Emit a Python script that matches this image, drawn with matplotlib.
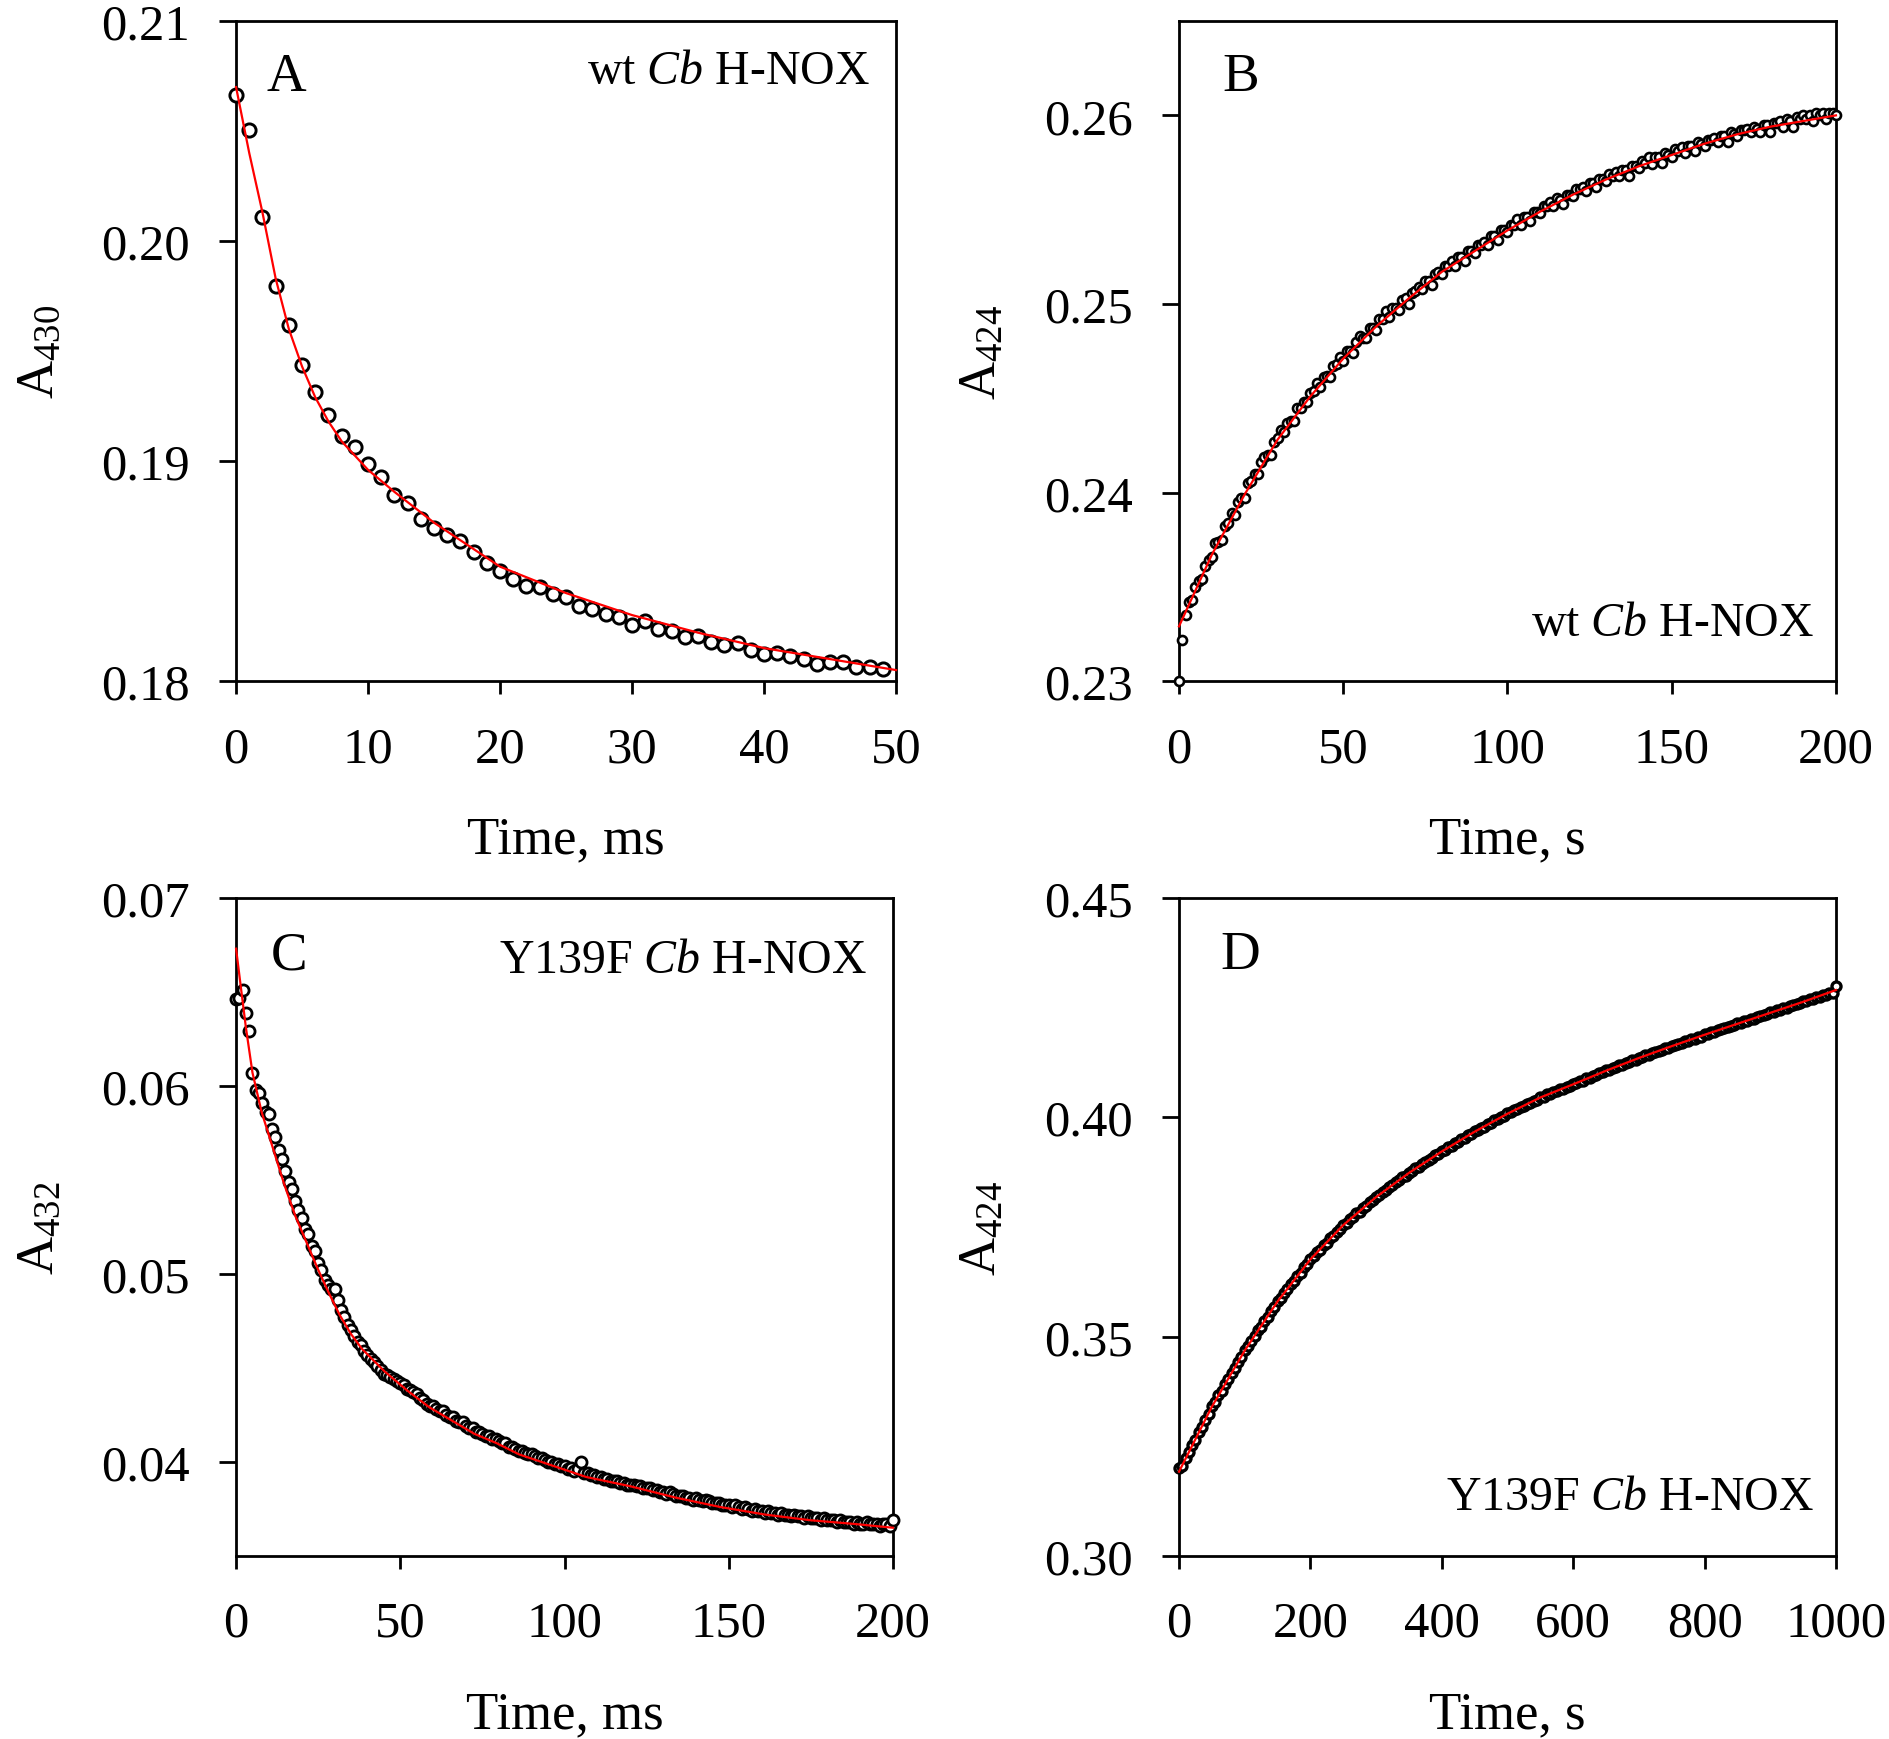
"Four-panel stopped-flow kinetics: wt and Y139F Cb H-NOX"

import numpy as np
import matplotlib
matplotlib.use("Agg")
import matplotlib.pyplot as plt
import matplotlib.ticker as mticker

plt.rcParams["font.family"] = ["Liberation Serif", "DejaVu Serif"]
plt.rcParams["mathtext.fontset"] = "custom"
plt.rcParams["mathtext.rm"] = "Liberation Serif"
plt.rcParams["mathtext.it"] = "Liberation Serif:italic"

# ---------------- Data ----------------
# Panel A: wt Cb H-NOX, A430 vs time (ms), 1 ms sampling
a_time = np.arange(0, 50, 1)
a_abs = [0.20664, 0.20506, 0.20111, 0.19798, 0.19620, 0.19439, 0.19315, 0.19208,
         0.19116, 0.19065, 0.18989, 0.18926, 0.18847, 0.18809, 0.18735, 0.18695,
         0.18666, 0.18637, 0.18588, 0.18536, 0.18502, 0.18462, 0.18433, 0.18426,
         0.18395, 0.18384, 0.18342, 0.18326, 0.18307, 0.18290, 0.18254, 0.18273,
         0.18237, 0.18227, 0.18200, 0.18206, 0.18179, 0.18164, 0.18174, 0.18143,
         0.18122, 0.18126, 0.18116, 0.18101, 0.18078, 0.18086, 0.18086, 0.18065,
         0.18065, 0.18055]
a_fit_time = [0, 1, 2, 3, 4, 5, 6, 7, 8, 10, 12, 15, 20, 25, 30, 35, 40, 45, 50]
a_fit = [0.2070, 0.2040, 0.2013, 0.1983, 0.1960, 0.1943, 0.1929, 0.1918,
         0.1909, 0.1896, 0.1886, 0.1872, 0.1852, 0.1840, 0.1830, 0.1822,
         0.1815, 0.1810, 0.1805]

# Panel B: wt Cb H-NOX, A424 vs time (s), 1 s sampling
b_time = np.arange(0, 201, 1)
b_abs = [0.2300, 0.2322, 0.2335, 0.2342, 0.2343, 0.2350, 0.2353, 0.2354, 0.2361, 0.2364,
         0.2366, 0.2373, 0.2374, 0.2375, 0.2382, 0.2384, 0.2389, 0.2388, 0.2395, 0.2397,
         0.2397, 0.2405, 0.2406, 0.2410, 0.2410, 0.2416, 0.2419, 0.2420, 0.2420, 0.2427,
         0.2429, 0.2433, 0.2432, 0.2437, 0.2438, 0.2438, 0.2445, 0.2445, 0.2448, 0.2448,
         0.2453, 0.2454, 0.2458, 0.2456, 0.2461, 0.2462, 0.2461, 0.2467, 0.2468, 0.2472,
         0.2470, 0.2475, 0.2475, 0.2474, 0.2480, 0.2483, 0.2482, 0.2482, 0.2487, 0.2487,
         0.2486, 0.2492, 0.2492, 0.2496, 0.2493, 0.2498, 0.2498, 0.2497, 0.2502, 0.2503,
         0.2500, 0.2506, 0.2507, 0.2509, 0.2508, 0.2512, 0.2512, 0.2510, 0.2516, 0.2517,
         0.2516, 0.2520, 0.2520, 0.2523, 0.2520, 0.2525, 0.2525, 0.2523, 0.2528, 0.2528,
         0.2527, 0.2531, 0.2531, 0.2533, 0.2531, 0.2536, 0.2536, 0.2534, 0.2539, 0.2539,
         0.2538, 0.2542, 0.2542, 0.2545, 0.2542, 0.2546, 0.2546, 0.2544, 0.2549, 0.2549,
         0.2548, 0.2552, 0.2552, 0.2554, 0.2552, 0.2556, 0.2555, 0.2553, 0.2558, 0.2558,
         0.2557, 0.2561, 0.2561, 0.2562, 0.2560, 0.2564, 0.2564, 0.2562, 0.2566, 0.2566,
         0.2565, 0.2569, 0.2568, 0.2570, 0.2568, 0.2571, 0.2571, 0.2568, 0.2573, 0.2573,
         0.2572, 0.2576, 0.2575, 0.2578, 0.2574, 0.2578, 0.2578, 0.2575, 0.2580, 0.2579,
         0.2578, 0.2582, 0.2581, 0.2583, 0.2580, 0.2584, 0.2584, 0.2581, 0.2586, 0.2585,
         0.2584, 0.2587, 0.2587, 0.2588, 0.2586, 0.2589, 0.2589, 0.2586, 0.2591, 0.2590,
         0.2589, 0.2592, 0.2592, 0.2593, 0.2591, 0.2594, 0.2593, 0.2591, 0.2595, 0.2595,
         0.2591, 0.2596, 0.2596, 0.2597, 0.2594, 0.2598, 0.2597, 0.2594, 0.2599, 0.2598,
         0.2600, 0.2598, 0.2600, 0.2597, 0.2601, 0.2600, 0.2601, 0.2598, 0.2601, 0.2601,
         0.2600]
b_fit_time = [0, 10, 20, 30, 40, 50, 60, 70, 80, 90, 100, 110, 120, 130, 140, 150,
              160, 170, 180, 190, 200]
b_fit = [0.2329, 0.2367, 0.2399, 0.2428, 0.2451, 0.2471, 0.2488, 0.2503, 0.2517,
         0.2528, 0.2539, 0.2549, 0.2558, 0.2566, 0.2573, 0.2579, 0.2585, 0.2590,
         0.2594, 0.2597, 0.2600]

# Panel C: Y139F Cb H-NOX, A432 vs time (ms), 1 ms sampling
c_time = np.arange(0, 201, 1)
c_abs = [0.0646, 0.0647, 0.0651, 0.0639, 0.0629, 0.0607, 0.0598, 0.0596, 0.0591, 0.0586,
         0.0585, 0.0577, 0.0573, 0.0566, 0.0561, 0.0555, 0.0549, 0.0545, 0.0539, 0.0534,
         0.0530, 0.0524, 0.0521, 0.0515, 0.0512, 0.0506, 0.0502, 0.0497, 0.0494, 0.0492,
         0.0492, 0.0486, 0.0481, 0.0477, 0.0473, 0.0470, 0.0467, 0.0464, 0.0462, 0.0459,
         0.0457, 0.0455, 0.0453, 0.0451, 0.0449, 0.0447, 0.0446, 0.0445, 0.0444, 0.0443,
         0.0442, 0.0441, 0.0439, 0.0438, 0.0437, 0.0436, 0.0434, 0.0433, 0.0431, 0.0430,
         0.0430, 0.0428, 0.0427, 0.0427, 0.0425, 0.0424, 0.0424, 0.0422, 0.0421, 0.0421,
         0.0419, 0.0418, 0.0418, 0.0416, 0.0416, 0.0415, 0.0414, 0.0414, 0.0412, 0.0412,
         0.0411, 0.0410, 0.0410, 0.0408, 0.0408, 0.0407, 0.0406, 0.0406, 0.0405, 0.0404,
         0.0404, 0.0403, 0.0402, 0.0402, 0.0401, 0.0400, 0.0400, 0.0399, 0.0399, 0.0398,
         0.0398, 0.0396, 0.0397, 0.0395, 0.0396, 0.0400, 0.0394, 0.0394, 0.0393, 0.0393,
         0.0392, 0.0392, 0.0391, 0.0391, 0.0390, 0.0390, 0.0390, 0.0389, 0.0389, 0.0388,
         0.0388, 0.0388, 0.0387, 0.0387, 0.0386, 0.0386, 0.0386, 0.0385, 0.0385, 0.0384,
         0.0384, 0.0383, 0.0384, 0.0383, 0.0382, 0.0382, 0.0382, 0.0381, 0.0381, 0.0380,
         0.0381, 0.0380, 0.0379, 0.0380, 0.0379, 0.0378, 0.0378, 0.0378, 0.0377, 0.0377,
         0.0377, 0.0376, 0.0377, 0.0376, 0.0375, 0.0376, 0.0375, 0.0374, 0.0375, 0.0374,
         0.0374, 0.0373, 0.0374, 0.0373, 0.0373, 0.0372, 0.0373, 0.0372, 0.0372, 0.0371,
         0.0372, 0.0371, 0.0371, 0.0370, 0.0371, 0.0370, 0.0370, 0.0370, 0.0369, 0.0370,
         0.0369, 0.0369, 0.0369, 0.0368, 0.0369, 0.0368, 0.0368, 0.0368, 0.0367, 0.0368,
         0.0367, 0.0367, 0.0368, 0.0367, 0.0367, 0.0367, 0.0366, 0.0367, 0.0367, 0.0366,
         0.0369]
c_fit_time = [0, 1.64, 3, 5, 7.8, 11.2, 14.6, 18, 21.4, 24.8, 28.2, 31.6, 35, 38.4,
              45.3, 52.1, 58.9, 65.7, 72.5, 79.3, 86.2, 93, 99.8, 106.6, 120.2, 133.9,
              147.5, 161.1, 174.8, 188.4, 200]
c_fit = [0.0673, 0.0650, 0.0631, 0.0607, 0.0586, 0.0567, 0.0548, 0.0531, 0.0517,
         0.0503, 0.0490, 0.0478, 0.0468, 0.0460, 0.0448, 0.0438, 0.0429, 0.0422,
         0.0415, 0.0410, 0.0404, 0.0400, 0.0396, 0.0392, 0.0387, 0.0381, 0.0376,
         0.0372, 0.0369, 0.0367, 0.0365]

# Panel D: Y139F Cb H-NOX, A424 vs time (s), 5 s sampling
d_time = np.arange(0, 1001, 5)
d_abs = [0.3200, 0.3206, 0.3223, 0.3236, 0.3252, 0.3265, 0.3282, 0.3295, 0.3311, 0.3324,
         0.3341, 0.3352, 0.3367, 0.3377, 0.3392, 0.3403, 0.3418, 0.3429, 0.3443, 0.3454,
         0.3469, 0.3478, 0.3491, 0.3501, 0.3514, 0.3523, 0.3536, 0.3545, 0.3559, 0.3568,
         0.3581, 0.3589, 0.3600, 0.3608, 0.3619, 0.3627, 0.3639, 0.3646, 0.3658, 0.3665,
         0.3677, 0.3683, 0.3693, 0.3698, 0.3708, 0.3714, 0.3724, 0.3730, 0.3739, 0.3745,
         0.3755, 0.3759, 0.3768, 0.3772, 0.3781, 0.3785, 0.3793, 0.3798, 0.3806, 0.3811,
         0.3819, 0.3823, 0.3830, 0.3834, 0.3841, 0.3845, 0.3852, 0.3856, 0.3863, 0.3867,
         0.3874, 0.3877, 0.3884, 0.3887, 0.3894, 0.3897, 0.3903, 0.3906, 0.3913, 0.3916,
         0.3923, 0.3925, 0.3932, 0.3934, 0.3941, 0.3943, 0.3950, 0.3952, 0.3959, 0.3961,
         0.3968, 0.3970, 0.3976, 0.3978, 0.3984, 0.3986, 0.3993, 0.3995, 0.4001, 0.4003,
         0.4009, 0.4011, 0.4016, 0.4018, 0.4024, 0.4025, 0.4031, 0.4033, 0.4038, 0.4040,
         0.4046, 0.4047, 0.4052, 0.4053, 0.4058, 0.4059, 0.4064, 0.4065, 0.4070, 0.4071,
         0.4076, 0.4077, 0.4082, 0.4083, 0.4089, 0.4090, 0.4095, 0.4096, 0.4101, 0.4102,
         0.4107, 0.4108, 0.4113, 0.4114, 0.4119, 0.4120, 0.4124, 0.4125, 0.4130, 0.4131,
         0.4136, 0.4137, 0.4141, 0.4142, 0.4147, 0.4148, 0.4152, 0.4153, 0.4158, 0.4158,
         0.4163, 0.4164, 0.4168, 0.4169, 0.4173, 0.4174, 0.4179, 0.4179, 0.4184, 0.4184,
         0.4189, 0.4190, 0.4194, 0.4195, 0.4199, 0.4200, 0.4204, 0.4205, 0.4209, 0.4210,
         0.4214, 0.4215, 0.4219, 0.4220, 0.4224, 0.4225, 0.4229, 0.4230, 0.4234, 0.4235,
         0.4239, 0.4240, 0.4244, 0.4245, 0.4249, 0.4250, 0.4254, 0.4255, 0.4259, 0.4260,
         0.4264, 0.4265, 0.4269, 0.4270, 0.4274, 0.4275, 0.4279, 0.4279, 0.4284, 0.4284,
         0.4300]
d_fit_time = [0, 50, 100, 150, 200, 250, 300, 350, 400, 450, 500, 550, 600, 650, 700,
              750, 800, 850, 900, 950, 1000]
d_fit = [0.3192, 0.3340, 0.3468, 0.3580, 0.3676, 0.3754, 0.3818, 0.3873, 0.3922,
         0.3967, 0.4008, 0.4045, 0.4075, 0.4106, 0.4135, 0.4162, 0.4188, 0.4213,
         0.4238, 0.4263, 0.4290]

# Axis settings per panel
a_xticks = [0, 10, 20, 30, 40, 50]; a_yticks = [0.18, 0.19, 0.20, 0.21]
b_xticks = [0, 50, 100, 150, 200];  b_yticks = [0.23, 0.24, 0.25, 0.26]
c_xticks = [0, 50, 100, 150, 200];  c_yticks = [0.04, 0.05, 0.06, 0.07]
d_xticks = [0, 200, 400, 600, 800, 1000]; d_yticks = [0.30, 0.35, 0.40, 0.45]

# ---------------- Figure ----------------
FS = 36.5
fig = plt.figure(figsize=(18.9, 17.4), dpi=100)

ax_a = fig.add_axes([0.1249, 0.6080, 0.3492, 0.3793])
ax_b = fig.add_axes([0.6238, 0.6080, 0.3476, 0.3793])
ax_c = fig.add_axes([0.1249, 0.1052, 0.3476, 0.3782])
ax_d = fig.add_axes([0.6238, 0.1052, 0.3476, 0.3782])


def style_axis(ax, xlim, ylim, xticks, yticks, xlabel, ylabel):
    ax.set_xlim(*xlim)
    ax.set_ylim(*ylim)
    ax.set_xticks(xticks)
    ax.set_yticks(yticks)
    ax.yaxis.set_major_formatter(mticker.FormatStrFormatter("%.2f"))
    ax.tick_params(axis="both", direction="out", width=2, labelsize=FS,
                   top=False, right=False)
    ax.tick_params(axis="x", length=9, pad=23)
    ax.tick_params(axis="y", length=12, pad=21)
    for sp in ax.spines.values():
        sp.set_linewidth(2)
    ax.set_xlabel(xlabel, fontsize=FS + 1.5, labelpad=31)
    ax.set_ylabel(ylabel, fontsize=FS + 1.5, labelpad=27)


def draw(ax, t, y, ft, fy, ms, mew):
    ax.plot(t, y, linestyle="none", marker="o", ms=ms, mew=mew,
            mfc="white", mec="black", clip_on=False, zorder=3)
    ax.plot(ft, fy, color="#ff0000", lw=1.6, zorder=4, clip_on=False)


# A
draw(ax_a, a_time, a_abs, a_fit_time, a_fit, 9.5, 2.1)
style_axis(ax_a, (0, 50), (0.18, 0.21), a_xticks, a_yticks,
           "Time, ms", r"A$_{430}$")
ax_a.text(0.076, 0.915, "A", transform=ax_a.transAxes, fontsize=FS + 3,
          ha="center", va="center")
ax_a.text(0.961, 0.924, r"wt $\it{Cb}$ H-NOX", transform=ax_a.transAxes,
          fontsize=FS - 2, ha="right", va="center")

# B
draw(ax_b, b_time, b_abs, b_fit_time, b_fit, 6.5, 1.9)
style_axis(ax_b, (0, 200), (0.23, 0.265), b_xticks, b_yticks,
           "Time, s", r"A$_{424}$")
ax_b.text(0.094, 0.915, "B", transform=ax_b.transAxes, fontsize=FS + 3,
          ha="center", va="center")
ax_b.text(0.967, 0.088, r"wt $\it{Cb}$ H-NOX", transform=ax_b.transAxes,
          fontsize=FS - 2, ha="right", va="center")

# C
draw(ax_c, c_time, c_abs, c_fit_time, c_fit, 8, 2.0)
style_axis(ax_c, (0, 200), (0.035, 0.07), c_xticks, c_yticks,
           "Time, ms", r"A$_{432}$")
ax_c.text(0.080, 0.913, "C", transform=ax_c.transAxes, fontsize=FS + 3,
          ha="center", va="center")
ax_c.text(0.961, 0.906, r"Y139F $\it{Cb}$ H-NOX", transform=ax_c.transAxes,
          fontsize=FS - 2, ha="right", va="center")

# D
draw(ax_d, d_time, d_abs, d_fit_time, d_fit, 6.5, 2.4)
style_axis(ax_d, (0, 1000), (0.30, 0.45), d_xticks, d_yticks,
           "Time, s", r"A$_{424}$")
ax_d.text(0.094, 0.913, "D", transform=ax_d.transAxes, fontsize=FS + 3,
          ha="center", va="center")
ax_d.text(0.967, 0.090, r"Y139F $\it{Cb}$ H-NOX", transform=ax_d.transAxes,
          fontsize=FS - 2, ha="right", va="center")

plt.savefig("out.png", dpi=100)
